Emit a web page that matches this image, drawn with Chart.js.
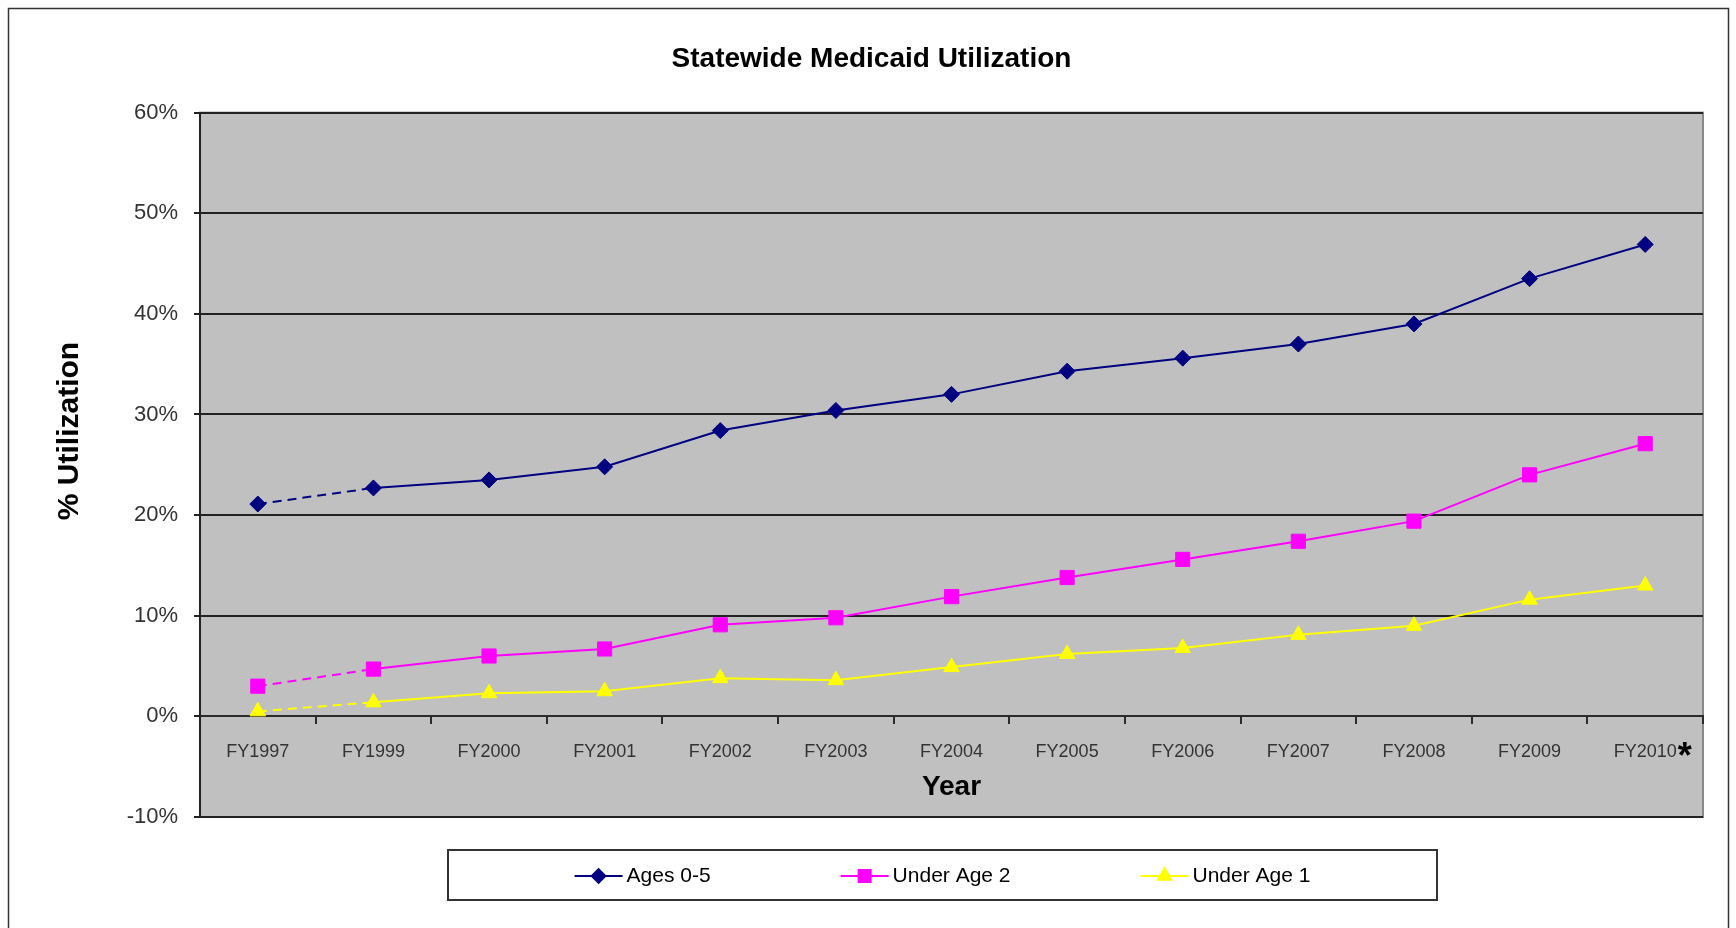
<!DOCTYPE html>
<html>
<head>
<meta charset="utf-8">
<script src="https://cdn.jsdelivr.net/npm/chart.js@4"></script>
<style>
  html, body { margin:0; padding:0; background:#fff; }
  #wrap { width:1736px; height:928px; position:relative; }
</style>
</head>
<body>
<div id="wrap"><canvas id="chart"></canvas></div>
<script>
const categories = ['FY1997','FY1999','FY2000','FY2001','FY2002','FY2003','FY2004','FY2005','FY2006','FY2007','FY2008','FY2009','FY2010'];
const ages0to5 = [21.1, 22.7, 23.5, 24.8, 28.4, 30.4, 32.0, 34.3, 35.6, 37.0, 39.0, 43.5, 46.9];
const underAge2 = [3.0, 4.7, 6.0, 6.7, 9.1, 9.8, 11.9, 13.8, 15.6, 17.4, 19.4, 24.0, 27.1];
const underAge1 = [0.5, 1.4, 2.3, 2.5, 3.8, 3.6, 4.9, 6.2, 6.8, 8.1, 9.0, 11.6, 13.0];
const seriesNames = ['Ages 0-5', 'Under Age 2', 'Under Age 1'];
const yMin = -10, yMax = 60, yStep = 10;
const footnoteMark = '*';

const FONT = "'Liberation Sans', Arial, sans-serif";
const dashFirst = ctx => ctx.p0DataIndex === 0 ? [9, 6] : undefined;

function line(label, data, color, style, radius){
  return { label, data, borderColor:color, backgroundColor:color, borderWidth:2, pointStyle:style,
    pointRadius:radius, pointHoverRadius:radius, pointBorderWidth:1, pointBorderColor:color, pointBackgroundColor:color,
    tension:0, borderDash:[], segment:{ borderDash:dashFirst } };
}

// white page, outer frame, gray plot area
const backdrop = {
  id:'backdrop',
  beforeDraw(chart){
    const {ctx, chartArea:a} = chart;
    ctx.save();
    ctx.fillStyle = '#fff'; ctx.fillRect(0,0,chart.width,chart.height);
    ctx.strokeStyle = '#333'; ctx.lineWidth = 1.5;
    ctx.strokeRect(8.5, 8.5, 1720, 940);
    ctx.fillStyle = '#c0c0c0'; ctx.fillRect(a.left, a.top, a.right-a.left, a.bottom-a.top);
    ctx.strokeStyle = '#8a8a8a'; ctx.lineWidth = 2;
    ctx.strokeRect(a.left, a.top, a.right-a.left, a.bottom-a.top);
    ctx.restore();
  }
};

// y title, asterisk on last label, boxed legend
const extras = {
  id:'extras',
  afterDraw(chart){
    const {ctx} = chart;
    const xs = chart.scales.x, ys = chart.scales.y;
    ctx.save();
    // y axis title
    ctx.translate(70, 431); ctx.rotate(-Math.PI/2);
    ctx.font = `bold 30px ${FONT}`; ctx.fillStyle = '#000'; ctx.textAlign = 'center'; ctx.textBaseline = 'middle';
    ctx.fillText('% Utilization', 0, 0);
    ctx.restore();

    // footnote mark after last category label
    ctx.save();
    const last = categories.length - 1;
    ctx.font = `18px ${FONT}`;
    const w = ctx.measureText(categories[last]).width;
    const lx = xs.getPixelForTick(last) + w/2 + 1;
    ctx.font = `bold 36px ${FONT}`; ctx.fillStyle = '#000'; ctx.textAlign = 'left'; ctx.textBaseline = 'middle';
    ctx.fillText(footnoteMark, lx, ys.getPixelForValue(0) + 42);
    ctx.restore();

    // legend
    ctx.save();
    const box = {l:448, t:850, r:1437, b:900};
    ctx.fillStyle = '#fff'; ctx.fillRect(box.l, box.t, box.r-box.l, box.b-box.t);
    ctx.strokeStyle = '#333'; ctx.lineWidth = 2;
    ctx.strokeRect(box.l, box.t, box.r-box.l, box.b-box.t);
    ctx.font = `21px ${FONT}`;
    const lineLen = 48, gapText = 4, gapItem = 130;
    const items = chart.data.datasets.map(d => ({d, tw: ctx.measureText(d.label).width}));
    const total = items.reduce((s,it)=>s + lineLen + gapText + it.tw, 0) + gapItem*(items.length-1);
    let x = (box.l + box.r)/2 - total/2;
    const cy = (box.t + box.b)/2 + 1;
    items.forEach(({d, tw}) => {
      ctx.strokeStyle = d.borderColor; ctx.lineWidth = 2; ctx.setLineDash([]);
      ctx.beginPath(); ctx.moveTo(x, cy); ctx.lineTo(x+lineLen, cy); ctx.stroke();
      ctx.fillStyle = d.backgroundColor;
      Chart.helpers.drawPoint(ctx, { pointStyle:d.pointStyle, radius:d.pointRadius*0.85, borderWidth:1 }, x+lineLen/2, cy);
      ctx.fillStyle = '#000'; ctx.textAlign = 'left'; ctx.textBaseline = 'middle';
      ctx.fillText(d.label, x + lineLen + gapText, cy);
      x += lineLen + gapText + tw + gapItem;
    });
    ctx.restore();
  }
};

new Chart(document.getElementById('chart'), {
  type:'line',
  data:{
    labels:categories,
    datasets:[
      line(seriesNames[0], ages0to5, '#000080', 'rectRot', 8),
      line(seriesNames[1], underAge2, '#ff00ff', 'rect', 10),
      line(seriesNames[2], underAge1, '#ffff00', 'triangle', 9)
    ]
  },
  options:{
    responsive:true, maintainAspectRatio:false, animation:false,
    layout:{ padding:{ left:40, right:33, top:0, bottom:111 } },
    plugins:{
      legend:{ display:false },
      tooltip:{ enabled:false },
      title:{ display:true, text:'Statewide Medicaid Utilization', color:'#000',
        font:{ family:FONT, size:28, weight:'bold' }, padding:{ top:42, bottom:37 } }
    },
    scales:{
      x:{
        type:'category', offset:true, position:{ y:0 },
        grid:{ offset:true, drawOnChartArea:false, drawTicks:true, tickLength:7, color:'#2b2b2b', lineWidth:2 },
        border:{ display:true, color:'#2b2b2b', width:2 },
        ticks:{ color:'#333', padding:18, maxRotation:0, autoSkip:false, font:{ family:FONT, size:18 } },
        title:{ display:true, text:'Year', color:'#000', font:{ family:FONT, size:28, weight:'bold' }, padding:{ top:-10, bottom:0 } }
      },
      y:{
        min:yMin, max:yMax,
        afterFit(s){ s.width = 160; },
        grid:{ color:'#222', lineWidth:2, tickLength:6, drawTicks:true },
        border:{ display:true, color:'#222', width:2 },
        ticks:{ stepSize:yStep, color:'#333', padding:16, font:{ family:FONT, size:22 }, callback:v => v + '%' }
      }
    }
  },
  plugins:[backdrop, extras]
});
</script>
</body>
</html>
